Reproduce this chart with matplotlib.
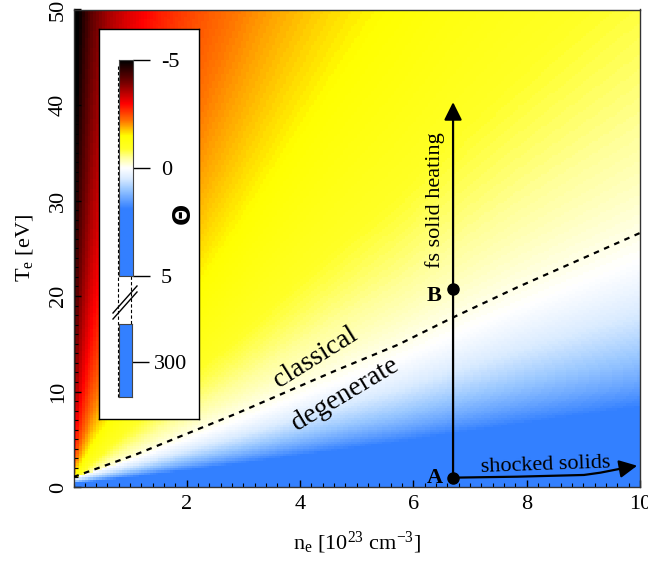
import numpy as np
import matplotlib
matplotlib.use("Agg")
import matplotlib.pyplot as plt
from matplotlib.colors import LinearSegmentedColormap, Normalize
from matplotlib.patches import FancyArrowPatch
from matplotlib.path import Path

plt.rcParams['font.family'] = ['Liberation Serif', 'DejaVu Serif']
plt.rcParams['mathtext.fontset'] = 'custom'
plt.rcParams['mathtext.rm'] = 'Liberation Serif'
plt.rcParams['mathtext.it'] = 'Liberation Serif:italic'

# ---------------- data ----------------
# classical / degenerate boundary (dashed line)
n_dash = [0.0, 1.12, 2.88, 4.65, 5.73, 6.68, 7.83, 10.0]
T_dash = [1.05, 3.45, 7.7, 12.25, 14.9, 17.7, 20.9, 26.6]

# points A and B
pt_labels = ['A', 'B']
pt_n = [6.7, 6.7]
pt_T = [0.95, 20.7]

# fs solid heating arrow (vertical)
heat_n = [6.7, 6.7]
heat_T = [0.95, 40.3]

# shocked solids arrow (curved)
shock_n = [6.71, 7.83, 9.01, 9.30, 9.60, 9.95]
shock_T = [0.98, 1.08, 1.26, 1.50, 1.85, 2.23]

# colour bar
cbar_ticks = [-5, 0, 5]
cbar_ticklabels = ['-5', '0', '5']
cbar2_ticks = [300]
cbar2_ticklabels = ['300']

x_ticks = [2, 4, 6, 8, 10]
y_ticks = [0, 10, 20, 30, 40, 50]

# colour map (value -> colour)
cmap_vals = [-5.0, -4.0, -3.0, -2.2, -1.5, -0.9, -0.5, 0.0, 0.5, 1.0, 1.9, 5.0]
cmap_cols = [(0, 0, 0), (0.45, 0, 0), (1, 0, 0), (1, 0.45, 0), (1, 1, 0),
             (1, 1, 0.15), (1, 1, 0.6), (1, 1, 1), (0.85, 0.92, 1.0),
             (0.6, 0.78, 1.0), (0.2, 0.5, 1.0), (0.2, 0.5, 1.0)]
blue = (0.2, 0.5, 1.0)

cmap = LinearSegmentedColormap.from_list(
    'theta', [((v + 5) / 10.0, c) for v, c in zip(cmap_vals, cmap_cols)])
norm = Normalize(-5, 5)

# ---------------- degeneracy field model ----------------
n_c = np.arange(0.025, 10.0, 0.05)
T_c = np.arange(0.125, 50.0, 0.25)
N, T = np.meshgrid(n_c, T_c)
T0d = 0.9 * np.interp(N, n_dash, T_dash)          # degenerate-side scale
T0c = T0d - 0.7 * np.exp(-N / 0.8)                 # classical-side scale
v_cl = -1.1 * np.log(T / T0c)
v_deg = -1.8 * np.log(T / T0d)
V = np.where(T > T0d, v_cl, v_deg)
V = np.clip(V, -5, 5)

# ---------------- figure ----------------
fig = plt.figure(figsize=(6.48, 5.64), dpi=100)
ax = fig.add_axes([73.5 / 648, 77 / 564, 566.5 / 648, 477.5 / 564])
ax.pcolormesh(n_c, T_c, V, cmap=cmap, norm=norm, shading='auto', rasterized=True)
ax.set_xlim(0, 10)
ax.set_ylim(0, 50)

ax.plot(n_dash, T_dash, color='k', lw=1.6, ls=(0, (2.5, 2.5)), zorder=3)

# vertical arrow
ax.annotate('', xy=(heat_n[1], heat_T[1]), xytext=(heat_n[0], heat_T[0]),
            arrowprops=dict(arrowstyle='-|>,head_length=0.4,head_width=0.2',
                            lw=1.6, color='k', mutation_scale=27, shrinkA=0, shrinkB=0),
            zorder=4)
# curved arrow
verts = list(zip(shock_n, shock_T))
arr = FancyArrowPatch(path=Path(verts), arrowstyle='-|>,head_length=0.4,head_width=0.2',
                      mutation_scale=27, lw=1.6, color='k', zorder=4)
ax.add_patch(arr)

ax.plot(pt_n, pt_T, 'o', color='k', ms=8, zorder=5)
ax.text(pt_n[0] - 0.33, pt_T[0], pt_labels[0], fontsize=16, fontweight='bold',
        ha='center', va='center', zorder=6)
ax.text(pt_n[1] - 0.33, pt_T[1] - 0.7, pt_labels[1], fontsize=16, fontweight='bold',
        ha='center', va='center', zorder=6)

ax.text(6.39, 30.05, 'fs solid heating', rotation=90, fontsize=16,
        ha='center', va='center', zorder=6)
ax.text(8.33, 2.25, 'shocked solids', rotation=2, fontsize=16,
        ha='center', va='center', zorder=6)
ax.text(4.28, 13.6, 'classical', rotation=32, fontsize=20,
        ha='center', va='center', zorder=6)
ax.text(4.8, 9.7, 'degenerate', rotation=31, fontsize=20,
        ha='center', va='center', zorder=6)

ax.set_xticks(x_ticks)
ax.set_yticks(y_ticks)
ax.set_xticks(np.arange(0, 10.01, 0.2), minor=True)
ax.set_yticks(np.arange(0, 50.01, 1), minor=True)
ax.tick_params(which='both', direction='in', top=False, right=False, labelsize=16)
ax.tick_params(which='major', length=5, width=1)
ax.tick_params(which='minor', length=3, width=0.8)
for lab in ax.get_yticklabels():
    lab.set_rotation(90)
    lab.set_va('center')
ax.tick_params(axis='y', pad=4)
ax.tick_params(axis='x', pad=6)
for s in ax.spines.values():
    s.set_color('#333333')
    s.set_linewidth(1.0)

ax.set_xlabel(r'n$_\mathrm{e}$ [10$^{23}$ cm$^{-3}$]', fontsize=16, labelpad=11)
ax.set_ylabel(r'T$_\mathrm{e}$ [eV]', fontsize=16, labelpad=10)

# ---------------- inset colour bar ----------------
box = fig.add_axes([99 / 648, 1 - 419 / 564, 100 / 648, 390 / 564])
box.set_xlim(99, 199)
box.set_ylim(419, 29)
box.set_facecolor('white')
box.set_xticks([])
box.set_yticks([])
for s in box.spines.values():
    s.set_color('k')
    s.set_linewidth(1.0)
# dashed guide lines and break marks
box.plot([117.5, 117.5], [66, 397], color='k', lw=0.8, ls=(0, (3, 2)))
box.plot([131, 131], [276, 324], color='k', lw=0.8, ls=(0, (3, 2)))
box.plot([113, 137], [313, 286], color='k', lw=1.0)
box.plot([113, 137], [319, 292], color='k', lw=1.0)
box.text(185, 215, r'$\mathbf{\Theta}$', rotation=90, fontsize=18,
         ha='center', va='center')

cax = fig.add_axes([119 / 648, 1 - 276 / 564, 14 / 648, 216 / 564])
grad = np.linspace(-5, 5, 400).reshape(-1, 1)
cax.imshow(grad, cmap=cmap, norm=norm, aspect='auto', extent=[0, 1, 5, -5])
cax.set_ylim(5, -5)
cax.set_xticks([])
cax.yaxis.tick_right()
cax.set_yticks(cbar_ticks)
cax.set_yticklabels(cbar_ticklabels)
cax.tick_params(axis='y', direction='out', length=12, width=1, labelsize=16, pad=8,
                color='k')
for s in cax.spines.values():
    s.set_color('#444444')
    s.set_linewidth(0.8)

cax2 = fig.add_axes([119 / 648, 1 - 397 / 564, 13 / 648, 73 / 564])
cax2.set_facecolor(blue)
cax2.set_xlim(0, 1)
cax2.set_ylim(580, 0)
cax2.set_xticks([])
cax2.yaxis.tick_right()
cax2.set_yticks(cbar2_ticks)
cax2.set_yticklabels(cbar2_ticklabels)
cax2.tick_params(axis='y', direction='out', length=12, width=1, labelsize=16, pad=4,
                 color='k')
for s in cax2.spines.values():
    s.set_color('#444444')
    s.set_linewidth(0.8)

fig.savefig('out.png', dpi=100)
